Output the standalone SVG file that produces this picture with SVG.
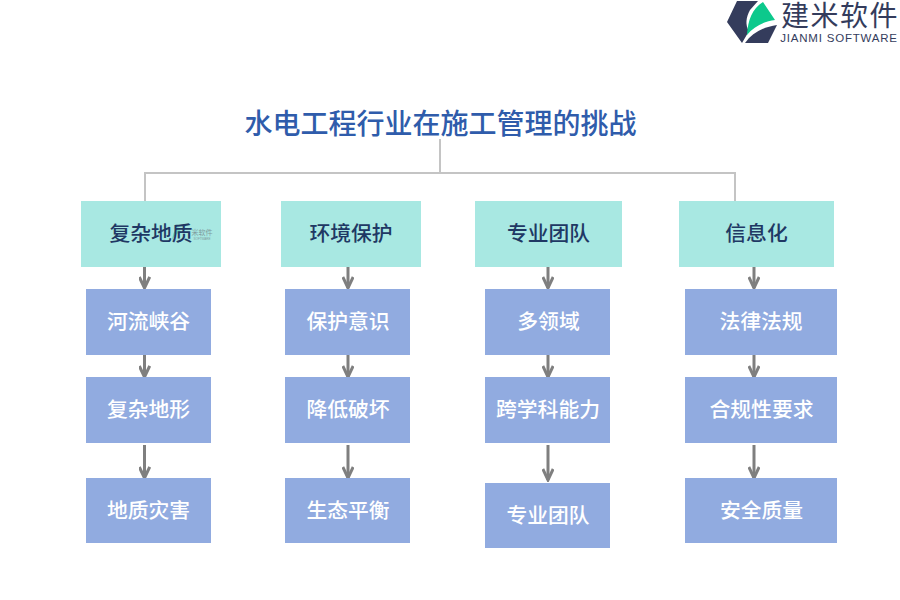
<svg xmlns="http://www.w3.org/2000/svg" width="900" height="600" viewBox="0 0 900 600">
<style>
text{font-family:"Noto Sans CJK SC","Liberation Sans",sans-serif;text-anchor:middle}
.t{font-size:20.800px;fill:#1f3864;font-weight:500}
.b{font-size:20.800px;fill:#fff;font-weight:500}
.h{fill:#a8e8e2}
.c{fill:#91abe0}
.tree{fill:none;stroke:#c4c4c4;stroke-width:2}
.arr{fill:none;stroke:#7f7f7f;stroke-width:3}
</style>
<defs>
<marker id="ah" markerUnits="userSpaceOnUse" markerWidth="14" markerHeight="12" refX="12" refY="6" orient="auto"><path d="M1 0.800 L12 6 L1 11.200" fill="none" stroke="#7f7f7f" stroke-width="3"/></marker>
</defs>
<rect width="900" height="600" fill="#fff"/>
<g id="logo">
<path d="M737 1 L758 1 L750 10 C746 17 745 25 749 31 L742 43 L727 22 Z" fill="#343c5c"/>
<path d="M747 35 C748 20 752 9 763 2 L775 20 C765 21 754 26 747 35 Z" fill="#0cc98c"/>
<path d="M777 25 L768 43 L745 43 C752 33 763 27 777 25 Z" fill="#343c5c"/>
<text x="840" y="26" style="font-size:28px;letter-spacing:1.500px" fill="#343c5c">建米软件</text>
<text x="839" y="42" style="font-size:11.500px;font-family:'Liberation Sans',sans-serif;letter-spacing:.8px" fill="#343c5c">JIANMI SOFTWARE</text>
</g>
<g id="title"><text x="440.500" y="134" style="font-size:28px;font-weight:500" fill="#2f5cab">水电工程行业在施工管理的挑战</text></g>
<g id="connectors">
<path class="tree" d="M440 139 V173 M145 201 V173 H735 V201"/>
<path class="arr" marker-end="url(#ah)" d="M144.500 267 V288"/>
<path class="arr" marker-end="url(#ah)" d="M144.500 355 V377"/>
<path class="arr" marker-end="url(#ah)" d="M144.500 445 V478"/>
<path class="arr" marker-end="url(#ah)" d="M348 267 V288"/>
<path class="arr" marker-end="url(#ah)" d="M348 355 V377"/>
<path class="arr" marker-end="url(#ah)" d="M348 445 V478"/>
<path class="arr" marker-end="url(#ah)" d="M548 267 V288"/>
<path class="arr" marker-end="url(#ah)" d="M548 355 V377"/>
<path class="arr" marker-end="url(#ah)" d="M548 445 V480"/>
<path class="arr" marker-end="url(#ah)" d="M754 267 V288"/>
<path class="arr" marker-end="url(#ah)" d="M754 355 V377"/>
<path class="arr" marker-end="url(#ah)" d="M754 445 V478"/>
</g>
<g id="n1"><rect class="h" x="81" y="201" width="140" height="66"/>
<path d="M172 240 C173 233 175 229 178 227 L181 232 C177 233 174 236 172 240 Z" fill="#5fd0b4" opacity=".8"/>
<text x="202" y="235" style="font-size:7px" fill="#7f9a9c">米软件</text>
<text x="202" y="240" style="font-size:3px;font-family:'Liberation Sans',sans-serif" fill="#7f9a9c">SOFTWARE</text>
<text class="t" x="151" y="241">复杂地质</text></g>
<g id="n2"><rect class="h" x="281" y="201" width="140" height="66"/><text class="t" x="351" y="241">环境保护</text></g>
<g id="n3"><rect class="h" x="475" y="201" width="147" height="66"/><text class="t" x="548.500" y="241">专业团队</text></g>
<g id="n4"><rect class="h" x="679" y="201" width="155" height="66"/><text class="t" x="756.500" y="241">信息化</text></g>
<g id="n5"><rect class="c" x="86" y="289" width="125" height="66"/><text class="b" x="148.500" y="329">河流峡谷</text></g>
<g id="n6"><rect class="c" x="86" y="377" width="125" height="66"/><text class="b" x="148.500" y="417">复杂地形</text></g>
<g id="n7"><rect class="c" x="86" y="478" width="125" height="65"/><text class="b" x="148.500" y="518">地质灾害</text></g>
<g id="n8"><rect class="c" x="285" y="289" width="125" height="66"/><text class="b" x="348" y="329">保护意识</text></g>
<g id="n9"><rect class="c" x="285" y="377" width="125" height="66"/><text class="b" x="348" y="417">降低破坏</text></g>
<g id="n10"><rect class="c" x="285" y="478" width="125" height="65"/><text class="b" x="348" y="518">生态平衡</text></g>
<g id="n11"><rect class="c" x="485" y="289" width="125" height="66"/><text class="b" x="548.500" y="329">多领域</text></g>
<g id="n12"><rect class="c" x="485" y="377" width="125" height="66"/><text class="b" x="548" y="417">跨学科能力</text></g>
<g id="n13"><rect class="c" x="485" y="483" width="125" height="65"/><text class="b" x="548" y="523">专业团队</text></g>
<g id="n14"><rect class="c" x="685" y="289" width="152" height="66"/><text class="b" x="761" y="329">法律法规</text></g>
<g id="n15"><rect class="c" x="685" y="377" width="152" height="66"/><text class="b" x="761.500" y="417">合规性要求</text></g>
<g id="n16"><rect class="c" x="685" y="478" width="152" height="65"/><text class="b" x="761.500" y="518">安全质量</text></g>
</svg>
